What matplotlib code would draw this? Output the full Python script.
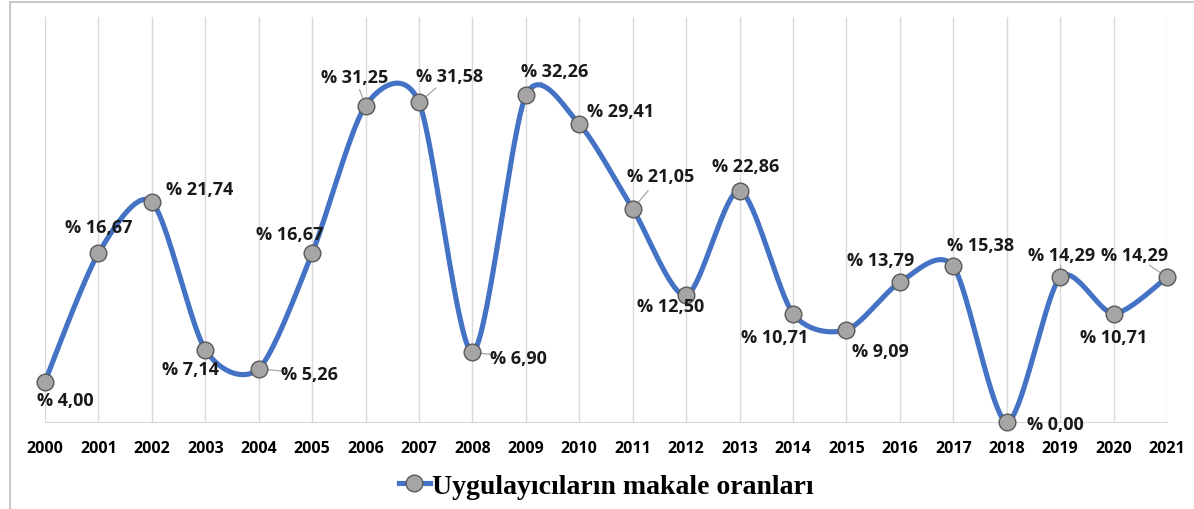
import numpy as np
import matplotlib
matplotlib.use("Agg")
import matplotlib.pyplot as plt
from matplotlib.lines import Line2D
from matplotlib.patches import Rectangle

years = [str(y) for y in range(2000, 2022)]
values = [4.00, 16.67, 21.74, 7.14, 5.26, 16.67, 31.25, 31.58, 6.90, 32.26, 29.41,
          21.05, 12.50, 22.86, 10.71, 9.09, 13.79, 15.38, 0.00, 14.29, 10.71, 14.29]
series_name = "Uygulayıcıların makale oranları"

# label offsets in pixels (dx, dy) and whether to draw a leader line
label_offsets = [(20, -19), (0, 26), (48, 13), (-15, -19), (51, -5), (-22, 19),
                 (-11, 29), (31, 26), (46, -6), (29, 24), (41, 13),
                 (28, 33), (-16, -11), (6, 25), (-18, -23), (34, -21), (-19, 22),
                 (27, 21), (49, -2), (1, 22), (0, -23), (-32, 22)]
leaders = [False, False, False, False, True, False, True, True, True, True, False,
           True, False, False, False, False, False, False, False, True, False, True]

LINE = "#4472C4"
LABEL_FONT = "Open Sans"

def smooth_curve(x, y, k=0.135, n=40):
    x = np.asarray(x, float); y = np.asarray(y, float)
    px = np.concatenate([[x[0]], x, [x[-1]]])
    py = np.concatenate([[y[0]], y, [y[-1]]])
    xs, ys = [], []
    t = np.linspace(0, 1, n)
    for i in range(1, len(px) - 2):
        p0 = np.array([px[i], py[i]]); p3 = np.array([px[i + 1], py[i + 1]])
        c1 = p0 + (np.array([px[i + 1], py[i + 1]]) - np.array([px[i - 1], py[i - 1]])) * k
        c2 = p3 - (np.array([px[i + 2], py[i + 2]]) - np.array([px[i], py[i]])) * k
        b = ((1 - t) ** 3)[:, None] * p0 + (3 * (1 - t) ** 2 * t)[:, None] * c1 \
            + (3 * (1 - t) * t ** 2)[:, None] * c2 + (t ** 3)[:, None] * p3
        xs.append(b[:, 0]); ys.append(b[:, 1])
    return np.concatenate(xs), np.concatenate(ys)

W, H = 1194, 510
fig = plt.figure(figsize=(W / 100, H / 100), dpi=100)
fig.patch.set_facecolor("white")
fig.patches.append(Rectangle((10 / W, -0.1), 1.2, (H - 3) / H + 0.1, transform=fig.transFigure,
                             fill=False, edgecolor="#BFBFBF", linewidth=1.2))

ax = fig.add_axes([45 / W, (H - 423) / H, (1167 - 45) / W, (423 - 18) / H])
x = np.arange(len(years))
ax.set_xlim(0, len(years) - 1)
ax.set_ylim(0, 40)
for xi in x:
    ax.axvline(xi, color="#D9D9D9", linewidth=1.0, zorder=0)
for s in ["top", "right", "left"]:
    ax.spines[s].set_visible(False)
ax.spines["bottom"].set_color("#D9D9D9")
ax.set_yticks([])
ax.set_xticks(x)
ax.set_xticklabels(years, fontfamily=LABEL_FONT, fontweight="bold", fontsize=11.5)
ax.tick_params(axis="x", length=0, pad=13)

sx, sy = smooth_curve(x, values)
ax.plot(sx, sy, color=LINE, linewidth=3.7, solid_capstyle="round", clip_on=False, zorder=2)
ax.plot(x, values, linestyle="none", marker="o", markersize=12, markerfacecolor="#A5A5A5",
        markeredgecolor="#595959", markeredgewidth=1.0, clip_on=False, zorder=3)

for xi, v, (dx, dy), ld in zip(x, values, label_offsets, leaders):
    txt = "% " + f"{v:.2f}".replace(".", ",")
    ax.annotate(txt, (xi, v), xytext=(dx * 0.72, dy * 0.72), textcoords="offset points",
                ha="center", va="center", fontfamily=LABEL_FONT, fontweight="bold", fontsize=13,
                color="#1A1A1A", zorder=4)
    if ld:
        ax.annotate("", (xi, v), xytext=(dx * 0.72 * 0.55, dy * 0.72 * 0.55), textcoords="offset points",
                    arrowprops=dict(arrowstyle="-", color="#A6A6A6", lw=0.9, shrinkA=0, shrinkB=6),
                    zorder=1)

handle = Line2D([0], [0], color=LINE, linewidth=3.7, marker="o", markersize=12,
                markerfacecolor="#A5A5A5", markeredgecolor="#595959")
fig.legend([handle], [series_name], loc="center", bbox_to_anchor=(606 / W, (H - 487) / H),
           frameon=False, handlelength=1.15, handletextpad=0.05,
           prop=dict(family="Liberation Serif", weight="bold", size=20))

fig.savefig("out.png", dpi=100, facecolor="white")
